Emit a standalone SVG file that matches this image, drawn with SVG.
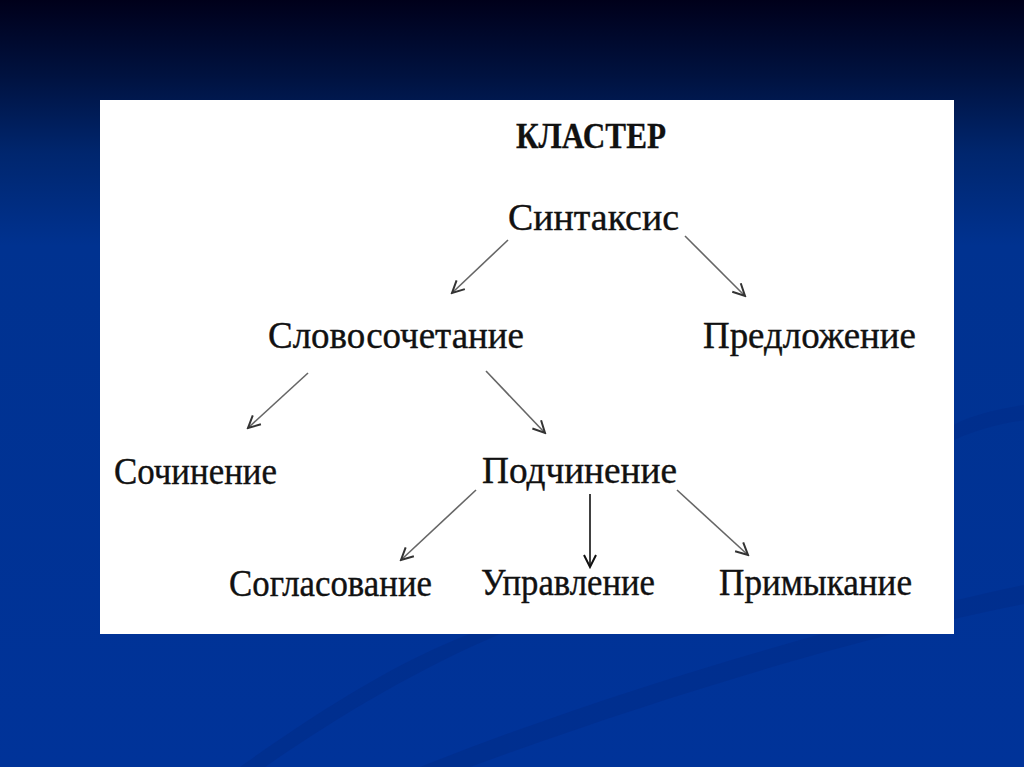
<svg xmlns="http://www.w3.org/2000/svg" width="1024" height="767" viewBox="0 0 1024 767">
<defs>
<linearGradient id="bg" x1="0" y1="0" x2="0" y2="1">
<stop offset="0" stop-color="#00001a"/>
<stop offset="0.1" stop-color="#001240"/>
<stop offset="0.2" stop-color="#00266e"/>
<stop offset="0.32" stop-color="#003290"/>
<stop offset="1" stop-color="#003399"/>
</linearGradient>
<marker id="ah" markerUnits="userSpaceOnUse" markerWidth="16" markerHeight="16" viewBox="0 0 16 16" refX="14" refY="8" orient="auto">
<path d="M2,2 L14,8 L2,14" fill="none" stroke="#333" stroke-width="2"/>
</marker>
<marker id="ahk" markerUnits="userSpaceOnUse" markerWidth="16" markerHeight="16" viewBox="0 0 16 16" refX="14" refY="8" orient="auto">
<path d="M2,2 L14,8 L2,14" fill="none" stroke="#111" stroke-width="2"/>
</marker>
<style>
.t{font-family:"Liberation Serif","Times New Roman",serif;font-size:38px;fill:#111;stroke:#111;stroke-width:0.4;}
.b{font-weight:bold;font-size:36px;stroke-width:0.3;}
.c{stroke:#666;stroke-width:1.6;fill:none;marker-end:url(#ah);}
.k{stroke:#111;stroke-width:1.6;fill:none;marker-end:url(#ahk);}
</style>
</defs>
<rect width="1024" height="767" fill="url(#bg)"/>
<g id="swooshes" fill="#002c88" opacity="0.55">
<path d="M1024,405 C990,410 965,418 954,425 L954,440 C975,430 1000,424 1024,420 Z"/>
<path d="M1024,585 C860,620 640,680 420,767 L470,767 C680,690 880,632 1024,604 Z"/>
<path d="M470,634 C400,660 320,710 240,767 L265,767 C340,715 420,668 500,634 Z"/>
</g>
<rect id="panel" x="100" y="100" width="854" height="534" fill="#ffffff"/>
<g id="connectors">
<line class="c" x1="508" y1="240" x2="452" y2="293"/>
<line class="c" x1="685" y1="236" x2="745" y2="296"/>
<line class="c" x1="308" y1="373" x2="248" y2="428"/>
<line class="c" x1="486" y1="371" x2="545" y2="433"/>
<line class="c" x1="476" y1="490" x2="401" y2="560"/>
<line class="k" x1="590" y1="494" x2="590" y2="567"/>
<line class="c" x1="677" y1="490" x2="748" y2="555"/>
</g>
<g id="title"><text class="t b" x="516" y="148" textLength="150" lengthAdjust="spacingAndGlyphs">КЛАСТЕР</text></g>
<g id="n-syntax"><text class="t" x="508" y="230" textLength="171" lengthAdjust="spacingAndGlyphs">Синтаксис</text></g>
<g id="n-slovo"><text class="t" x="268" y="348" textLength="256" lengthAdjust="spacingAndGlyphs">Словосочетание</text></g>
<g id="n-predl"><text class="t" x="703" y="348" textLength="213" lengthAdjust="spacingAndGlyphs">Предложение</text></g>
<g id="n-soch"><text class="t" x="114" y="484" textLength="163" lengthAdjust="spacingAndGlyphs">Сочинение</text></g>
<g id="n-podch"><text class="t" x="482" y="483" textLength="195" lengthAdjust="spacingAndGlyphs">Подчинение</text></g>
<g id="n-sogl"><text class="t" x="229" y="596" textLength="203" lengthAdjust="spacingAndGlyphs">Согласование</text></g>
<g id="n-upr"><text class="t" x="481" y="595" textLength="174" lengthAdjust="spacingAndGlyphs">Управление</text></g>
<g id="n-prim"><text class="t" x="719" y="595" textLength="193" lengthAdjust="spacingAndGlyphs">Примыкание</text></g>
</svg>
